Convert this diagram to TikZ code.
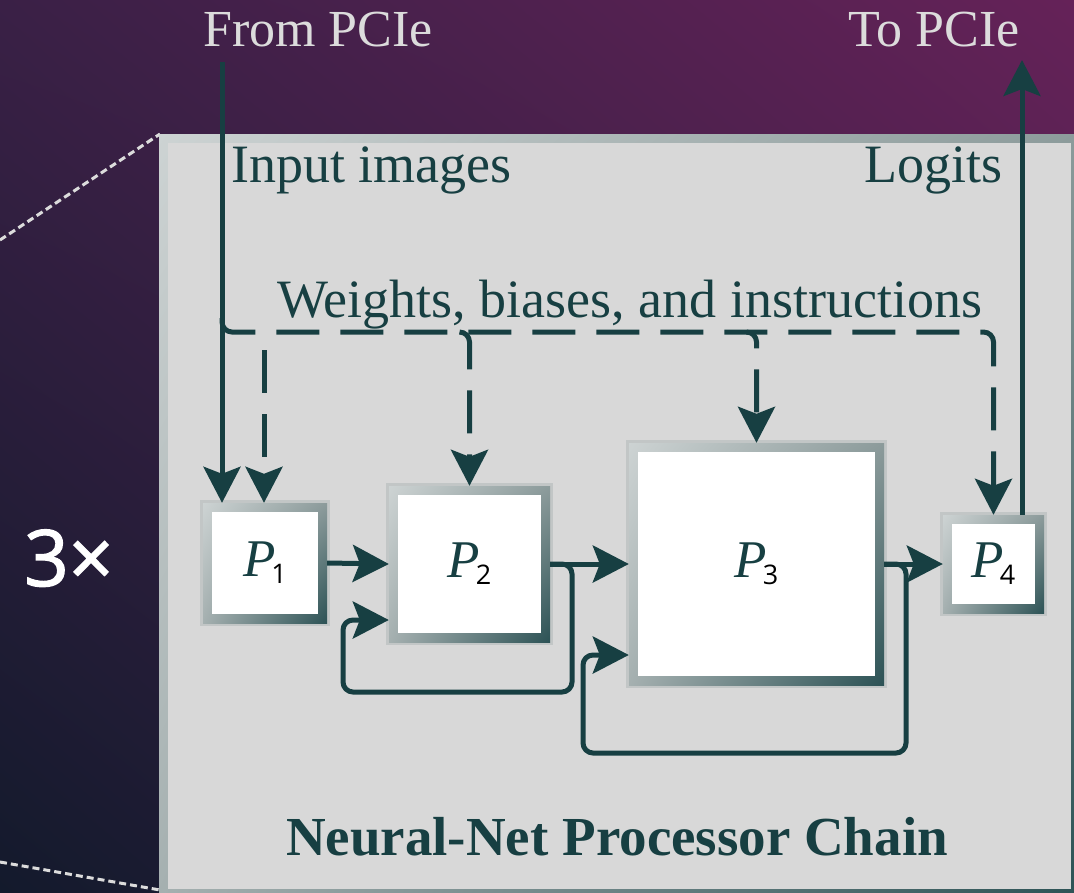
\documentclass[tikz,border=0pt]{standalone}
\usepackage{fontspec}
\setmainfont{Liberation Serif}
\newfontfamily\digitfont{Open Sans}
\newfontfamily\countfont{Open Sans}[FakeBold=1.6]
\usetikzlibrary{arrows.meta,calc,shadings}

\definecolor{ink}{HTML}{173F42}
\definecolor{pale}{HTML}{DCDCDC}
\definecolor{panelfill}{HTML}{D8D8D8}
\definecolor{edgeA}{HTML}{CDD3D3}
\definecolor{edgeB}{HTML}{8C9B9B}
\definecolor{edgeC}{HTML}{A5B0B0}
\definecolor{edgeD}{HTML}{2C5255}
\definecolor{halo}{HTML}{B4BBBB}
\definecolor{bgUL}{HTML}{3A2046}
\definecolor{bgUR}{HTML}{652258}
\definecolor{bgLL}{HTML}{131A2C}
\definecolor{bgLR}{HTML}{3A2048}

\newcommand\procsub[1]{\kern-4pt\raisebox{-7pt}{\upshape\digitfont\fontsize{27}{30}\selectfont\color{black}#1}}

\begin{document}
\begin{tikzpicture}[x=1pt,y=-1pt,
  bevel/.style={shade, upper left=edgeA, upper right=edgeB,
                lower left=edgeC, lower right=edgeD},
  inset/.style={path picture={\fill[#1]
      ([shift={(9pt,-9pt)}]path picture bounding box.north west) rectangle
      ([shift={(-9pt,9pt)}]path picture bounding box.south east);}},
  proc/.style={bevel, inset=white, inner sep=0pt, text=ink,
               preaction={draw=halo, draw opacity=0.6, line width=6pt},
               font=\fontsize{53}{60}\selectfont\itshape},
  wire/.style={draw=ink, line width=5pt, rounded corners=10pt,
               -{Stealth[length=36pt,width=37pt,inset=7pt]}},
  bus/.style={dash pattern=on 43pt off 21pt},
  zoomline/.style={draw=pale, line width=3pt, dash pattern=on 7pt off 4pt},
  lbl/.style={inner sep=0pt, text=ink, font=\fontsize{54}{60}\selectfont},
  outer/.style={inner sep=0pt, text=pale, font=\fontsize{52}{60}\selectfont}]

\useasboundingbox (0,0) rectangle (1074,892);
\clip (0,0) rectangle (1074,892);

% backdrop
\shade[upper left=bgUL, upper right=bgUR, lower left=bgLL, lower right=bgLR]
  (0,0) rectangle (1074,892);

% zoom guide lines, ending under the panel corners
\coordinate (zt) at (0,240);
\coordinate (zb) at (0,862);
\coordinate (pnw) at (160,134);
\coordinate (psw) at (160,890);
\draw[zoomline] (zt) -- (pnw);
\draw[zoomline] (zb) -- (psw);

% panel with bevelled edge
\node[bevel, inset=panelfill, inner sep=0pt, minimum width=921pt, minimum height=764pt]
  (panel) at (619.5,516) {};

% processors
\node[proc, minimum width=124pt, minimum height=120pt] (p1) at (265,563) {P\procsub{1}};
\node[proc, minimum width=161pt, minimum height=156pt] (p2) at (469.5,564) {P\procsub{2}};
\node[proc, minimum width=255pt, minimum height=242pt] (p3) at (756.5,564) {P\procsub{3}};
\node[proc, minimum width=101pt, minimum height=98pt] (p4) at (993.5,564) {P\procsub{4}};

% labels
\node[outer, anchor=base west] (from) at (203,46) {From PCIe};
\node[outer, anchor=base east] (to) at (1020,46) {To PCIe};
\node[lbl, anchor=base west] (inimg) at (231,182) {Input images};
\node[lbl, anchor=base east] (logits) at (1003,182) {Logits};
\node[lbl, anchor=base west] (wbi) at (277,317) {Weights, biases, and instructions};
\node[lbl, anchor=base, font=\fontsize{55}{60}\selectfont\bfseries] (title) at (617,855)
  {Neural-Net Processor Chain};
\node[inner sep=0pt, anchor=base west, text=white, font=\countfont\fontsize{78}{80}\selectfont]
  (times) at (24,586) {3×};

% host links
\coordinate (in) at (222,62);
\coordinate (out) at (1022,60);
\coordinate (busL) at (222,332);
\coordinate (t1) at (264,332);
\draw[wire] (in) -- (in |- p1.north);
\draw[wire] (out |- p4.north) -- (out);

% parameter bus
\draw[wire, bus] ($(busL)+(0,-14)$) |- (p4.north |- busL) -- (p4.north);
\draw[wire, bus, dash phase=46pt] (t1) -- (t1 |- p1.north);
\draw[wire, bus] ($(p2.north |- busL)+(-10,0)$) -- (p2.north |- busL) -- (p2.north);
\draw[wire, bus, dash phase=21pt] ($(p3.north |- busL)+(-10,0)$) -- (p3.north |- busL) -- (p3.north);

% data path
\coordinate (l2a) at (572,692);
\coordinate (l2b) at (343,620);
\coordinate (l3a) at (906,753);
\coordinate (l3b) at (583,655);
\draw[wire] (p1.east) -- (p2.west);
\draw[wire] (p2.east) -- (p3.west |- p2.east);
\draw[wire] (p3.east) -- (p4.west |- p3.east);
\draw[wire] (p2.east) -| (l2a) -| (l2b) -- (p2.west |- l2b);
\draw[wire] (p3.east) -| (l3a) -| (l3b) -- (p3.west |- l3b);
\end{tikzpicture}
\end{document}
